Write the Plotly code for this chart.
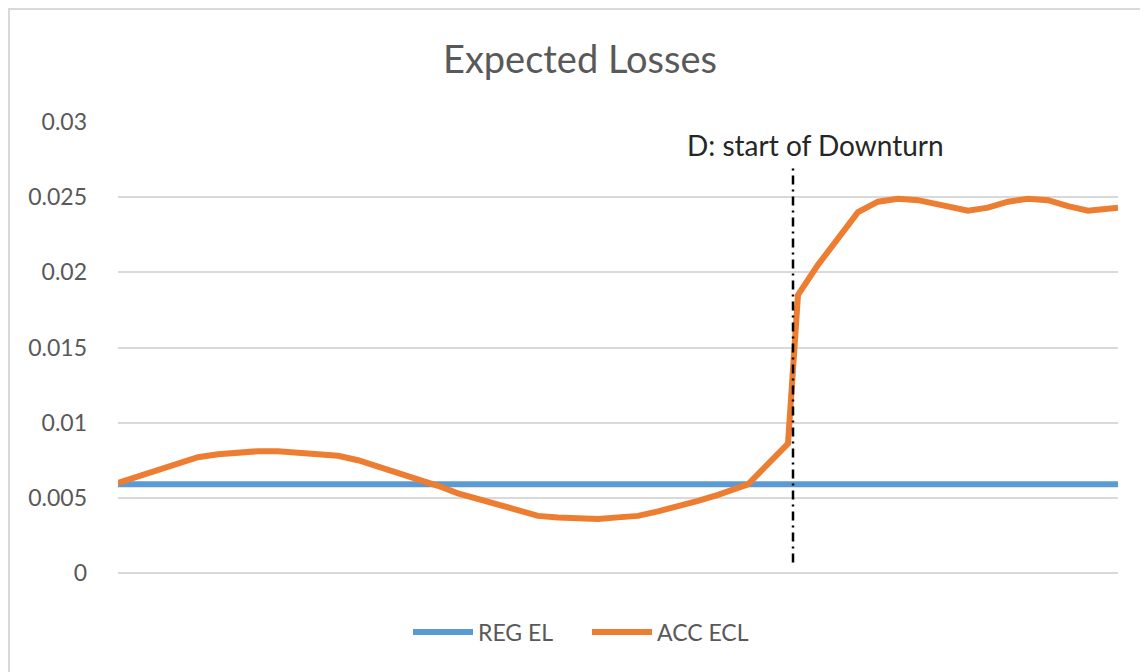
import plotly.graph_objects as go

periods = [0, 2, 4, 6, 8, 10, 12, 14, 16, 18, 20, 22, 24, 26, 28, 30, 32, 34,
           36, 38, 40, 42, 44, 46, 48, 50, 52, 54, 56, 58, 60, 62, 63, 67, 68,
           70, 72, 74, 76, 78, 80, 82, 84, 85, 87, 89, 91, 93, 95, 97, 100]

acc_ecl = [0.0060, 0.0064, 0.0069, 0.0073, 0.0077, 0.0079, 0.0080, 0.0081,
           0.0081, 0.0080, 0.0079, 0.0078, 0.0075, 0.0071, 0.0067, 0.0063,
           0.0058, 0.0053, 0.0049, 0.0045, 0.0041, 0.0038, 0.0037, 0.0036,
           0.0036, 0.0037, 0.0038, 0.0041, 0.0044, 0.0048, 0.0052, 0.0057,
           0.0059, 0.0086, 0.0185, 0.0205, 0.0222, 0.0240, 0.0247, 0.0249,
           0.0248, 0.0245, 0.0242, 0.0241, 0.0243, 0.0247, 0.0249, 0.0248,
           0.0244, 0.0241, 0.0243]

reg_el = [0.0059] * len(periods)

downturn_period = 67.5
downturn_label = "D: start of Downturn"

y_ticks = [0, 0.005, 0.01, 0.015, 0.02, 0.025, 0.03]
y_tick_text = ["0", "0.005", "0.01", "0.015", "0.02", "0.025", "0.03"]

FONT = "Lato"
GREY_TEXT = "#595959"
GRID = "#d9d9d9"

fig = go.Figure()

fig.add_trace(
    go.Scatter(
        x=periods,
        y=reg_el,
        mode="lines",
        name="REG EL",
        line=dict(color="#5b9bd5", width=6),
    )
)

fig.add_trace(
    go.Scatter(
        x=periods,
        y=acc_ecl,
        mode="lines",
        name="ACC ECL",
        line=dict(color="#ed7d31", width=6),
    )
)

# downturn marker
fig.add_shape(
    type="line",
    xref="x", yref="y",
    x0=downturn_period, x1=downturn_period,
    y0=0.0007, y1=0.0272,
    line=dict(color="black", width=2.5, dash="9px,5px,2px,5px"),
)

fig.add_annotation(
    x=downturn_period + 2.2,
    y=0.02847,
    xref="x", yref="y",
    text=downturn_label,
    showarrow=False,
    font=dict(family=FONT, size=28, color="#262626"),
)

# light chart-area border (Excel style)
fig.add_shape(
    type="rect",
    xref="paper", yref="paper",
    x0=-0.109, x1=1.2,
    y0=-0.4, y1=1.2506,
    line=dict(color=GRID, width=2),
    layer="below",
)

# page body has an 8px margin, so the figure is sized/offset to compensate
fig.update_layout(
    width=1140,
    height=664,
    margin=dict(l=110, r=30, t=114, b=99),
    paper_bgcolor="white",
    plot_bgcolor="white",
    font=dict(family=FONT, color=GREY_TEXT),
    title=dict(
        text="Expected Losses",
        x=0.462,
        xref="paper",
        xanchor="center",
        y=0.922,
        yref="container",
        yanchor="middle",
        font=dict(family=FONT, size=38, color=GREY_TEXT),
    ),
    xaxis=dict(
        range=[0, 100],
        showgrid=False,
        showticklabels=False,
        zeroline=False,
        showline=False,
        fixedrange=True,
    ),
    yaxis=dict(
        range=[0, 0.03],
        tickvals=y_ticks,
        ticktext=y_tick_text,
        showgrid=True,
        gridcolor=GRID,
        gridwidth=2,
        zeroline=True,
        zerolinecolor=GRID,
        zerolinewidth=2,
        showline=False,
        ticks="",
        ticklabelstandoff=30,
        tickfont=dict(family=FONT, size=23, color=GREY_TEXT),
    ),
    showlegend=True,
    legend=dict(
        orientation="h",
        x=0.290,
        xanchor="left",
        y=-0.131,
        yanchor="middle",
        font=dict(family=FONT, size=23, color=GREY_TEXT),
        itemwidth=60,
        entrywidth=104,
    ),
)

fig.write_html("out.html")
